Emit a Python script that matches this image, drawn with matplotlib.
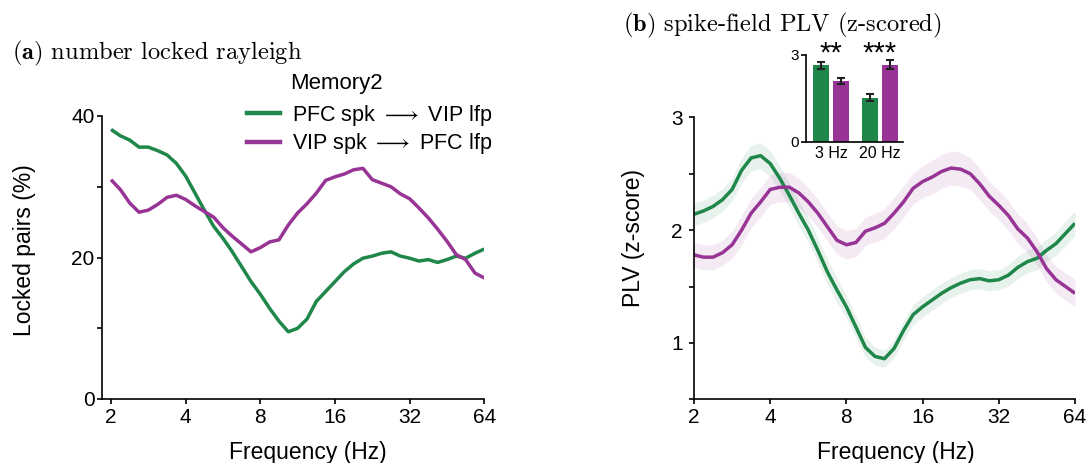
import numpy as np
import matplotlib
matplotlib.use("Agg")
import matplotlib.pyplot as plt
from matplotlib.lines import Line2D

plt.rcParams["font.family"] = ["Liberation Sans", "DejaVu Sans"]
plt.rcParams["mathtext.fontset"] = "cm"

# Frequency grid: 8 samples per octave from 2 to 64 Hz
freqs = np.geomspace(2, 64, 41)

# (a) percentage of significantly locked pairs (Rayleigh test)
locked_pfc_vip = [38.1, 37.2, 36.6, 35.6, 35.6, 35.1, 34.5, 33.3, 31.5, 29.1,
                  26.7, 24.4, 22.7, 20.8, 18.7, 16.6, 14.8, 12.8, 11.0, 9.5,
                  10.0, 11.3, 13.8, 15.2, 16.6, 18.0, 19.1, 19.9, 20.2, 20.6,
                  20.8, 20.2, 19.9, 19.5, 19.7, 19.3, 19.7, 20.2, 19.9, 20.6,
                  21.2]
locked_vip_pfc = [31.0, 29.6, 27.7, 26.4, 26.7, 27.5, 28.5, 28.8, 28.2, 27.3,
                  26.5, 25.7, 24.2, 23.0, 21.9, 20.8, 21.4, 22.2, 22.5, 24.6,
                  26.3, 27.6, 29.1, 30.9, 31.4, 31.8, 32.4, 32.6, 31.0, 30.5,
                  30.0, 29.0, 28.3, 27.0, 25.6, 24.0, 22.3, 20.4, 19.7, 17.8,
                  17.1]

# (b) z-scored spike-field PLV, mean and s.e.m.
plv_pfc_vip = [2.14, 2.17, 2.21, 2.27, 2.36, 2.53, 2.64, 2.66, 2.59, 2.46,
               2.31, 2.15, 2.00, 1.82, 1.63, 1.47, 1.32, 1.14, 0.96, 0.88,
               0.86, 0.95, 1.11, 1.25, 1.32, 1.38, 1.44, 1.49, 1.53, 1.56,
               1.57, 1.55, 1.56, 1.60, 1.67, 1.72, 1.75, 1.82, 1.88, 1.97,
               2.06]
sem_pfc_vip = [0.10, 0.10, 0.10, 0.10, 0.10, 0.11, 0.115, 0.115, 0.115, 0.11,
               0.11, 0.11, 0.11, 0.11, 0.11, 0.11, 0.10, 0.10, 0.09, 0.08,
               0.075, 0.08, 0.085, 0.09, 0.09, 0.09, 0.09, 0.09, 0.09, 0.09,
               0.09, 0.09, 0.09, 0.095, 0.10, 0.10, 0.10, 0.10, 0.105, 0.11,
               0.11]
plv_vip_pfc = [1.78, 1.76, 1.76, 1.80, 1.87, 2.00, 2.15, 2.25, 2.36, 2.38,
               2.38, 2.33, 2.25, 2.15, 2.03, 1.91, 1.87, 1.89, 1.99, 2.02,
               2.06, 2.15, 2.25, 2.37, 2.43, 2.47, 2.52, 2.55, 2.54, 2.50,
               2.41, 2.30, 2.22, 2.13, 2.01, 1.93, 1.81, 1.66, 1.56, 1.50,
               1.44]
sem_vip_pfc = [0.11, 0.11, 0.11, 0.11, 0.12, 0.13, 0.13, 0.13, 0.13, 0.13,
               0.13, 0.13, 0.125, 0.125, 0.125, 0.125, 0.125, 0.125, 0.125, 0.125,
               0.13, 0.14, 0.14, 0.14, 0.14, 0.15, 0.15, 0.15, 0.15, 0.14,
               0.14, 0.13, 0.13, 0.13, 0.13, 0.13, 0.12, 0.12, 0.12, 0.12,
               0.12]

# Inset: band-averaged PLV
band_labels = ["3 Hz", "20 Hz"]
band_pfc_vip = [2.65, 1.52]
band_pfc_vip_err = [0.12, 0.12]
band_vip_pfc = [2.09, 2.66]
band_vip_pfc_err = [0.11, 0.16]
band_stars = ["**", "***"]

series_labels = [r"PFC spk $\longrightarrow$ VIP lfp",
                 r"VIP spk $\longrightarrow$ PFC lfp"]
GREEN = "#1f874a"
PURPLE = "#973495"

W, H = 1088, 463
fig = plt.figure(figsize=(W / 100, H / 100), dpi=100)


def frac_box(x0, y0, x1, y1):
    return [x0 / W, 1 - y1 / H, (x1 - x0) / W, (y1 - y0) / H]


def style_freq_axis(ax):
    ax.set_xscale("log", base=2)
    ax.set_xticks([2, 4, 8, 16, 32, 64])
    ax.set_xticklabels(["2", "4", "8", "16", "32", "64"])
    ax.xaxis.set_minor_locator(matplotlib.ticker.NullLocator())
    for s in ("top", "right"):
        ax.spines[s].set_visible(False)
    for s in ("left", "bottom"):
        ax.spines[s].set_linewidth(1.2)
    ax.tick_params(axis="both", which="major", labelsize=15, length=3.6,
                   width=1.2, direction="out")
    ax.tick_params(axis="x", pad=3)


# ---- panel (a) ----
ax_a = fig.add_axes(frac_box(101.7, 116, 484.3, 399))
ax_a.plot(freqs, locked_pfc_vip, color=GREEN, lw=2.5, solid_capstyle="butt")
ax_a.plot(freqs, locked_vip_pfc, color=PURPLE, lw=2.5, solid_capstyle="butt")
style_freq_axis(ax_a)
ax_a.set_xlim(2 * 2 ** -0.125, 64)
ax_a.set_ylim(0, 40)
ax_a.set_yticks([0, 10, 20, 30, 40])
ax_a.set_yticklabels(["0", "", "20", "", "40"])
ax_a.tick_params(axis="y", pad=1.5)
ax_a.set_xlabel("Frequency (Hz)", fontsize=16.5, va="top")
ax_a.xaxis.set_label_coords(0.539, -0.148)
ax_a.set_ylabel("Locked pairs (%)", fontsize=16.5)
ax_a.yaxis.set_label_coords(-0.172, 0.527)

handles = [Line2D([], [], color=GREEN, lw=3.2), Line2D([], [], color=PURPLE, lw=3.2)]
ax_a.legend(handles, series_labels, loc="upper left",
            bbox_to_anchor=(246.7 / W, 1 - 103 / H), bbox_transform=fig.transFigure,
            frameon=False, fontsize=15.5, handlelength=1.55, handletextpad=0.55,
            labelspacing=0.15, borderpad=0, borderaxespad=0)
fig.text(290 / W, 1 - 83 / H, "Memory2", fontsize=16, ha="left", va="center")

fig.text(12 / W, 1 - 59 / H, r"$\mathbf{(a)}$ number locked rayleigh",
         fontfamily="cmr10", fontsize=17.6, ha="left", va="baseline")

# ---- panel (b) ----
ax_b = fig.add_axes(frac_box(694, 117.3, 1075, 399.3))
for mean, sem, col in ((plv_pfc_vip, sem_pfc_vip, GREEN),
                       (plv_vip_pfc, sem_vip_pfc, PURPLE)):
    m = np.asarray(mean)
    e = np.asarray(sem)
    ax_b.fill_between(freqs, m - e, m + e, color=col, alpha=0.1, lw=0)
for mean, col in ((plv_pfc_vip, GREEN), (plv_vip_pfc, PURPLE)):
    ax_b.plot(freqs, mean, color=col, lw=2.5, solid_capstyle="butt")
style_freq_axis(ax_b)
ax_b.set_xlim(2, 64)
ax_b.set_ylim(0.5, 3)
ax_b.set_yticks([0.5, 1, 1.5, 2, 2.5, 3])
ax_b.set_yticklabels(["", "1", "", "2", "", "3"])
ax_b.tick_params(axis="y", pad=4.5)
ax_b.set_xlabel("Frequency (Hz)", fontsize=16.5, va="top")
ax_b.xaxis.set_label_coords(0.530, -0.148)
ax_b.set_ylabel("PLV (z-score)", fontsize=16.5)
ax_b.yaxis.set_label_coords(-0.128, 0.572)

fig.text(623 / W, 1 - 31 / H, r"$\mathbf{(b)}$ spike-field PLV (z-scored)",
         fontfamily="cmr10", fontsize=17.6, ha="left", va="baseline")

# ---- inset bars ----
ax_i = fig.add_axes(frac_box(806, 55, 903, 141.7))
pos = np.arange(len(band_labels))
bw = 0.32
ax_i.bar(pos - 0.2, band_pfc_vip, width=bw, color=GREEN,
         yerr=band_pfc_vip_err, capsize=3,
         error_kw=dict(ecolor="#222222", elinewidth=1.5, capthick=1.5))
ax_i.bar(pos + 0.2, band_vip_pfc, width=bw, color=PURPLE,
         yerr=band_vip_pfc_err, capsize=3,
         error_kw=dict(ecolor="#222222", elinewidth=1.5, capthick=1.5))
ax_i.set_xlim(-0.51, 1.47)
ax_i.set_ylim(0, 3)
ax_i.set_yticks([0, 3])
ax_i.set_yticklabels(["0", "3"])
ax_i.set_xticks(pos)
ax_i.set_xticklabels(band_labels)
for s in ("top", "right"):
    ax_i.spines[s].set_visible(False)
for s in ("left", "bottom"):
    ax_i.spines[s].set_linewidth(1.2)
ax_i.tick_params(axis="y", labelsize=11, length=3.5, width=1.2, pad=1.5)
ax_i.tick_params(axis="x", labelsize=11.5, length=0, pad=3)
for x, star in zip(pos, band_stars):
    ax_i.text(x, 2.78, star, ha="center", va="baseline", fontsize=21,
              clip_on=False)

fig.savefig("out.png", dpi=100)
